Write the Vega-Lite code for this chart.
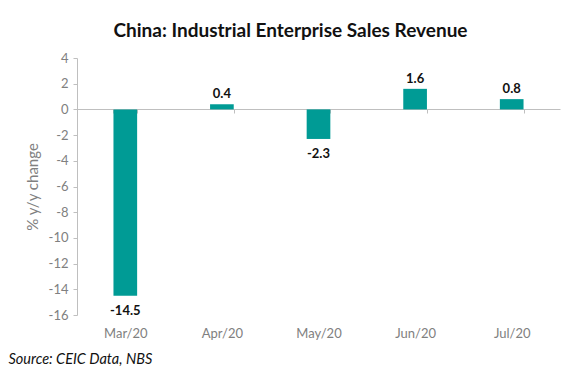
{
  "$schema": "https://vega.github.io/schema/vega-lite/v6.json",
  "autosize": {"type": "none"},
  "width": 483,
  "height": 257,
  "padding": {"left": 77, "top": 58, "right": 20, "bottom": 62},
  "background": "white",
  "config": {
    "font": "Lato",
    "view": {"stroke": null},
    "axis": {"grid": false},
    "locale": {"number": {"decimal": ".", "thousands": ",", "grouping": [3], "currency": ["", ""], "minus": "-"}}
  },
  "title": {
    "text": "China: Industrial Enterprise Sales Revenue",
    "fontSize": 19,
    "fontWeight": "bold",
    "color": "#111111",
    "anchor": "middle",
    "dx": -28,
    "offset": 11,
    "font": "Lato"
  },
  "data": {
    "values": [
      {"month": "Mar/20", "value": -14.5},
      {"month": "Apr/20", "value": 0.4},
      {"month": "May/20", "value": -2.3},
      {"month": "Jun/20", "value": 1.6},
      {"month": "Jul/20", "value": 0.8}
    ]
  },
  "encoding": {
    "x": {
      "field": "month",
      "type": "nominal",
      "sort": null,
      "scale": {"paddingInner": 0.755, "paddingOuter": 0.3775},
      "axis": {
        "title": "Source: CEIC Data, NBS",
        "titleFont": "Lato",
        "titleFontStyle": "italic",
        "titleFontWeight": "normal",
        "titleFontSize": 14.5,
        "titleColor": "#111111",
        "titleAnchor": "start",
        "titleAlign": "left",
        "titleBaseline": "alphabetic",
        "titleX": -69,
        "titleY": 254,
        "offset": -206,
        "labelAngle": 0,
        "labelPadding": 214,
        "labelFontSize": 13,
        "labelColor": "#808080",
        "domainColor": "#bfbfbf",
        "tickColor": "#bfbfbf",
        "tickSize": 4,
        "tickBand": "extent"
      }
    },
    "y": {
      "field": "value",
      "type": "quantitative",
      "scale": {"domain": [-16, 4], "nice": false, "zero": false},
      "axis": {
        "title": "% y/y change",
        "titleFontSize": 15,
        "titleFontWeight": "normal",
        "titleColor": "#808080",
        "titlePadding": 8,
        "values": [-16, -14, -12, -10, -8, -6, -4, -2, 0, 2, 4],
        "labelFontSize": 13,
        "labelColor": "#808080",
        "labelPadding": 5,
        "domainColor": "#bfbfbf",
        "tickColor": "#bfbfbf",
        "tickSize": 4
      }
    }
  },
  "layer": [
    {
      "mark": {"type": "bar", "color": "#009b95"}
    },
    {
      "transform": [{"filter": "datum.value >= 0"}],
      "mark": {"type": "text", "baseline": "alphabetic", "dy": -6, "fontWeight": "bold", "fontSize": 13, "color": "#111111"},
      "encoding": {"text": {"field": "value", "type": "quantitative", "format": ".1f"}}
    },
    {
      "transform": [{"filter": "datum.value < 0"}],
      "mark": {"type": "text", "baseline": "top", "dy": 9, "fontWeight": "bold", "fontSize": 13, "color": "#111111"},
      "encoding": {"text": {"field": "value", "type": "quantitative", "format": ".1f"}}
    }
  ]
}
